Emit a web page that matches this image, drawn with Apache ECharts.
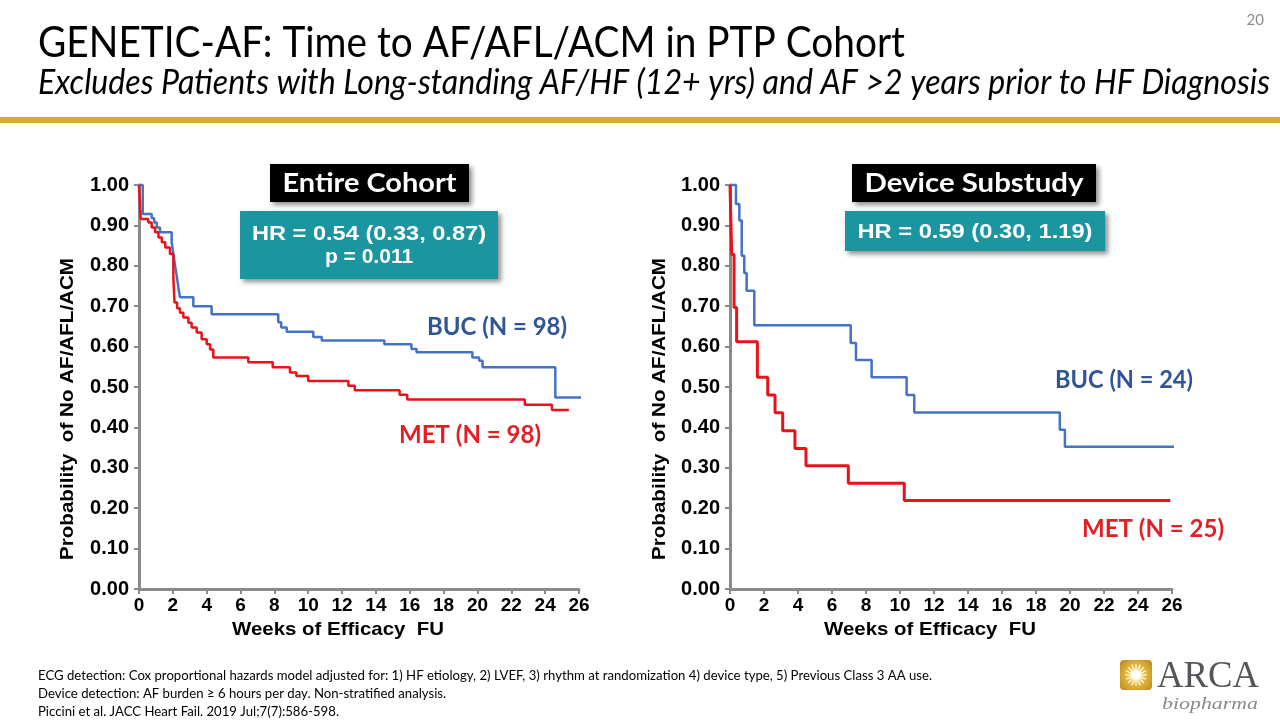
<!DOCTYPE html>
<html>
<head>
<meta charset="utf-8">
<script src="https://cdn.jsdelivr.net/npm/echarts@6/dist/echarts.min.js"></script>
<style>
html,body{margin:0;padding:0;background:#fff;}
#chart{width:1280px;height:720px;}
</style>
</head>
<body>
<div id="chart"></div>
<script>
// ---- Data ----
const xTicks = [0, 2, 4, 6, 8, 10, 12, 14, 16, 18, 20, 22, 24, 26];
const yTicks = [0, 0.1, 0.2, 0.3, 0.4, 0.5, 0.6, 0.7, 0.8, 0.9, 1.0];

// Entire Cohort – BUC
const leftBucTime = [0, 0.22, 0.75, 0.9, 1.05, 1.24, 1.93, 2.03, 2.13, 2.23, 2.33, 2.42, 3.21, 4.29, 8.23, 8.4, 8.73, 10.3, 10.8, 14.5, 16.1, 16.4, 19.7, 20.1, 20.3, 24.6, 26.2];
const leftBucSurv = [1.0, 0.928, 0.918, 0.907, 0.895, 0.883, 0.858, 0.83, 0.80, 0.775, 0.745, 0.722, 0.70, 0.68, 0.66, 0.647, 0.637, 0.624, 0.615, 0.606, 0.594, 0.586, 0.573, 0.565, 0.549, 0.474, 0.474];
// Entire Cohort – MET
const leftMetTime = [0, 0.1, 0.55, 0.75, 0.95, 1.15, 1.35, 1.55, 1.83, 2.03, 2.1, 2.25, 2.42, 2.62, 2.92, 3.11, 3.41, 3.70, 4.0, 4.2, 4.39, 6.46, 7.9, 8.92, 9.3, 10.0, 12.37, 12.75, 15.4, 15.85, 22.8, 24.4, 25.4];
const leftMetSurv = [1.0, 0.916, 0.907, 0.895, 0.883, 0.87, 0.858, 0.845, 0.829, 0.77, 0.709, 0.695, 0.684, 0.672, 0.659, 0.647, 0.635, 0.618, 0.606, 0.593, 0.573, 0.561, 0.549, 0.536, 0.527, 0.515, 0.503, 0.492, 0.481, 0.469, 0.456, 0.443, 0.443];
// Device Substudy – BUC
const rightBucTime = [0, 0.35, 0.55, 0.69, 0.84, 0.98, 1.43, 7.1, 7.41, 8.33, 10.39, 10.84, 19.4, 19.7, 27.0];
const rightBucSurv = [1.0, 0.953, 0.912, 0.825, 0.782, 0.738, 0.653, 0.609, 0.567, 0.524, 0.48, 0.437, 0.394, 0.352, 0.352];
// Device Substudy – MET
const rightMetTime = [0, 0.1, 0.24, 0.39, 1.61, 2.22, 2.65, 3.1, 3.82, 4.47, 6.96, 10.25, 25.9];
const rightMetSurv = [1.0, 0.828, 0.697, 0.612, 0.524, 0.48, 0.436, 0.392, 0.348, 0.305, 0.262, 0.219, 0.219];

// ---- Text ----
const titleText = 'GENETIC-AF: Time to AF/AFL/ACM in PTP Cohort';
const subtitleText = 'Excludes Patients with Long-standing AF/HF (12+ yrs) and AF >2 years prior to HF Diagnosis';
const xAxisTitle = 'Weeks of Efficacy  FU';
const yAxisTitle = 'Probability  of No AF/AFL/ACM';
const footLines = [
  'ECG detection: Cox proportional hazards model adjusted for: 1) HF etiology, 2) LVEF, 3) rhythm at randomization 4) device type, 5) Previous Class 3 AA use.',
  'Device detection: AF burden \u2265 6 hours per day. Non-stratified analysis.',
  'Piccini et al. JACC Heart Fail. 2019 Jul;7(7):586-598.'
];

const BLUE = '#4472C4', RED = '#E8121A', GRAY = '#8A8A8A', TEAL = '#1B95A0';
const zip = (t, s) => t.map((v, i) => [v, s[i]]);

const ctx = document.createElement('canvas').getContext('2d');
function measure(text, font) { ctx.font = font; return ctx.measureText(text).width; }
function fitScale(text, font, target) { return target / measure(text, font); }

function axisPair(i) {
  return {
    x: {
      type: 'value', gridIndex: i, min: 0, max: 26, interval: 2,
      axisLine: { show: true, onZero: false, lineStyle: { color: GRAY, width: 3 } },
      axisTick: { show: true, length: 5, lineStyle: { color: GRAY, width: 2 } },
      splitLine: { show: false },
      axisLabel: { color: '#000', fontFamily: 'Liberation Sans', fontWeight: 'bold', fontSize: 19, margin: 7 }
    },
    y: {
      type: 'value', gridIndex: i, min: 0, max: 1, interval: 0.1,
      axisLine: { show: true, lineStyle: { color: GRAY, width: 3 } },
      axisTick: { show: true, length: 5, lineStyle: { color: GRAY, width: 2 } },
      splitLine: { show: false },
      axisLabel: { color: '#000', fontFamily: 'Liberation Sans', fontWeight: 'bold', fontSize: 20, margin: 10,
        formatter: v => v.toFixed(2) }
    }
  };
}
const a0 = axisPair(0), a1 = axisPair(1);

function line(name, data, color, width, idx) {
  return { name, type: 'line', step: 'end', data, xAxisIndex: idx, yAxisIndex: idx,
    showSymbol: false, clip: false, lineStyle: { color, width }, itemStyle: { color }, z: 3 };
}

// Graphic helpers
function txt(text, x, y, font, fill, target, align, rotation) {
  const sc = target ? fitScale(text, font, target) : 1;
  return { type: 'text', x, y, scaleX: sc, rotation: rotation || 0, z: 10,
    style: { text, font, fill, align: align || 'left', verticalAlign: 'middle' } };
}
function box(x, y, w, h, fill) {
  return { type: 'rect', shape: { x, y, width: w, height: h }, z: 9,
    style: { fill, shadowBlur: 5, shadowOffsetX: 3, shadowOffsetY: 3, shadowColor: 'rgba(0,0,0,0.45)' } };
}

const titleFont = '43px Lato';
const subFont = 'italic 35px Lato';
const footFont = '14px Lato';
const footScale = fitScale(footLines[0], footFont, 894);
const boxFont = 'bold 26px Lato';
const hrFont = 'bold 21px "Liberation Sans"';
const nFont = 'bold 24px Lato';
const axFont = 'bold 19px "Liberation Sans"';

const graphics = [
  txt(titleText, 38, 43, titleFont, '#000', 867),
  txt(subtitleText, 38, 83, subFont, '#000', 1232),
  { type: 'rect', shape: { x: 0, y: 117, width: 1280, height: 6 }, style: { fill: '#D9AA2F' } },
  txt('20', 1264, 20, '15px Lato', '#8C8C8C', 0, 'right'),
  box(270, 164, 199, 38, '#000'),
  txt('Entire Cohort', 369.5, 184, boxFont, '#fff', 174, 'center'),
  box(240, 211, 258, 68, TEAL),
  txt('HR = 0.54 (0.33, 0.87)', 369, 234, hrFont, '#fff', 234, 'center'),
  txt('p = 0.011', 369, 257, hrFont, '#fff', 0, 'center'),
  box(852, 164, 244, 38, '#000'),
  txt('Device Substudy', 974, 184, boxFont, '#fff', 219, 'center'),
  box(845, 211, 260, 40, TEAL),
  txt('HR = 0.59 (0.30, 1.19)', 975, 232, hrFont, '#fff', 235, 'center'),
  txt('BUC (N = 98)', 427, 327, nFont, '#2F5597', 140),
  txt('MET (N = 98)', 399, 435, nFont, '#E31E24', 142),
  txt('BUC (N = 24)', 1055, 380, nFont, '#2F5597', 138),
  txt('MET (N = 25)', 1082, 529, nFont, '#E31E24', 142),
  // axis titles
  txt(xAxisTitle, 338, 630, axFont, '#000', 212, 'center'),
  txt(xAxisTitle, 930, 630, axFont, '#000', 212, 'center'),
  txt(yAxisTitle, 68, 409, axFont, '#000', 302, 'center', Math.PI / 2),
  txt(yAxisTitle, 660, 409, axFont, '#000', 302, 'center', Math.PI / 2)
];
footLines.forEach((t, i) => {
  graphics.push({ type: 'text', x: 38, y: 675 + i * 18, scaleX: footScale, z: 10,
    style: { text: t, font: footFont, fill: '#000', align: 'left', verticalAlign: 'middle' } });
});
// Logo
graphics.push({ type: 'rect', shape: { x: 1120, y: 660, width: 32, height: 30, r: 4 }, z: 10,
  style: { fill: new echarts.graphic.RadialGradient(0.5, 0.5, 0.7, [
    { offset: 0, color: '#FFF3B0' }, { offset: 0.5, color: '#E2B43A' }, { offset: 1, color: '#B98A1E' }]) } });
for (let k = 0; k < 16; k++) {
  const ang = k * Math.PI / 8;
  graphics.push({ type: 'line', z: 11, shape: { x1: 1136 + Math.cos(ang) * 5, y1: 675 + Math.sin(ang) * 5,
    x2: 1136 + Math.cos(ang) * 11, y2: 675 + Math.sin(ang) * 11 }, style: { stroke: '#FFFBE8', lineWidth: 1.2 } });
}
graphics.push({ type: 'circle', z: 12, shape: { cx: 1136, cy: 675, r: 5 }, style: { fill: '#FFFFFF' } });
graphics.push(txt('ARCA', 1157, 677, '38px "Liberation Serif"', '#55565A', 102));
graphics.push(txt('biopharma', 1162, 705, 'italic 17px "Liberation Serif"', '#8A8A8A', 96));

const chart = echarts.init(document.getElementById('chart'), null, { renderer: 'canvas' });
chart.setOption({
  animation: false,
  backgroundColor: '#fff',
  grid: [
    { left: 139, top: 185, width: 440, height: 404 },
    { left: 730, top: 185, width: 442, height: 404 }
  ],
  xAxis: [a0.x, a1.x],
  yAxis: [a0.y, a1.y],
  series: [
    line('BUC', zip(leftBucTime, leftBucSurv), BLUE, 2.5, 0),
    line('MET', zip(leftMetTime, leftMetSurv), RED, 2.5, 0),
    line('BUC', zip(rightBucTime, rightBucSurv), BLUE, 2.5, 1),
    line('MET', zip(rightMetTime, rightMetSurv), RED, 3, 1)
  ],
  graphic: graphics
});
</script>
</body>
</html>
